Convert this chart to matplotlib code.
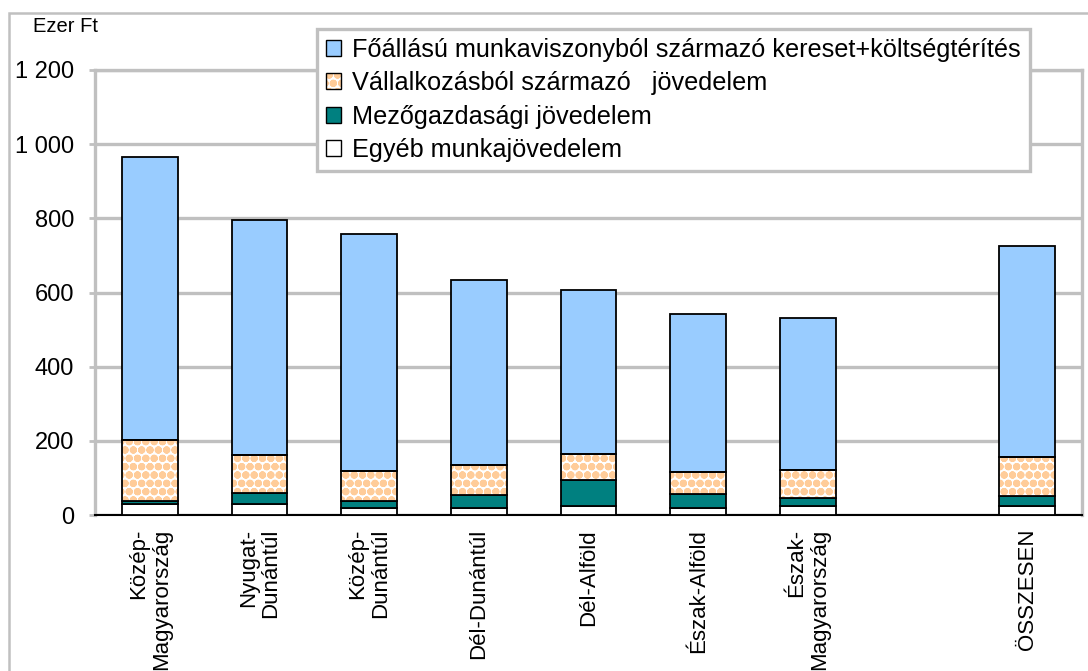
import matplotlib
matplotlib.use("Agg")
import matplotlib.pyplot as plt
from matplotlib.patches import Patch, Rectangle
from matplotlib.legend_handler import HandlerTuple
import numpy as np

plt.rcParams['font.family'] = ['Liberation Sans', 'DejaVu Sans']
plt.rcParams['hatch.linewidth'] = 2.8

categories = ["Közép-\nMagyarország", "Nyugat-\nDunántúl", "Közép-\nDunántúl", "Dél-Dunántúl",
              "Dél-Alföld", "Észak-Alföld", "Észak-\nMagyarország", "", "ÖSSZESEN"]
egyeb = [30, 30, 20, 20, 25, 20, 25, np.nan, 25]
mezogazd = [8, 29, 18, 33, 69, 37, 21, np.nan, 27]
vallalk = [164, 103, 80, 83, 71, 60, 76, np.nan, 104]
foallasu = [763, 633, 640, 499, 442, 426, 410, np.nan, 569]

labels = ["Főállású munkaviszonyból származó kereset+költségtérítés",
          "Vállalkozásból származó   jövedelem",
          "Mezőgazdasági jövedelem",
          "Egyéb munkajövedelem"]

blue = '#99CCFF'
orange = '#FFCC99'
teal = '#008080'
grid = '#C0C0C0'

fig = plt.figure(figsize=(10.88, 6.71), dpi=100)
ax = fig.add_axes([95/1088, 1-515/671, 987/1088, 445/671])

x = np.arange(len(categories))
w = 0.51
e = np.array(egyeb, dtype=float)
m = np.array(mezogazd, dtype=float)
v = np.array(vallalk, dtype=float)
f = np.array(foallasu, dtype=float)

ax.bar(x, e, w, color='white', edgecolor='black', linewidth=1.3, zorder=3)
ax.bar(x, m, w, bottom=e, color=teal, edgecolor='black', linewidth=1.3, zorder=3)
ax.bar(x, v, w, bottom=e+m, color='white', edgecolor=orange, hatch='oo', linewidth=0, zorder=3)
ax.bar(x, v, w, bottom=e+m, fill=False, edgecolor='black', linewidth=1.3, zorder=4)
ax.bar(x, f, w, bottom=e+m+v, color=blue, edgecolor='black', linewidth=1.3, zorder=3)

ax.set_xlim(-0.5, len(categories)-0.5)
ax.set_ylim(0, 1200)
ax.set_yticks(range(0, 1201, 200))
ax.set_yticklabels(['0', '200', '400', '600', '800', '1 000', '1 200'], fontsize=17)
ax.yaxis.grid(True, color=grid, linewidth=2.4, zorder=0)
ax.set_axisbelow(True)
ax.tick_params(axis='y', length=4, width=2, color=grid, pad=11)
ax.tick_params(axis='x', length=0, pad=10)
ax.set_xticks(x)
ax.set_xticklabels(categories, rotation=90, fontsize=16, va='top', ha='center',
                   multialignment='right', linespacing=1.1)
for s in ['left', 'right', 'top']:
    ax.spines[s].set_color(grid)
    ax.spines[s].set_linewidth(2.4)
ax.spines['bottom'].set_color('black')
ax.spines['bottom'].set_linewidth(1.5)

# outer frame
fig.patches.append(Rectangle((9/1088, -0.1), 1.2, 1-13/671+0.1, transform=fig.transFigure,
                             fill=False, edgecolor=grid, linewidth=1.8, zorder=0))

fig.text(33/1088, 1-27/671, "Ezer Ft", fontsize=14.5, va='center', ha='left')

handles = [Patch(facecolor=blue, edgecolor='black', linewidth=1),
           (Patch(facecolor='white', edgecolor=orange, hatch='oo', linewidth=0),
            Patch(fill=False, edgecolor='black', linewidth=1)),
           Patch(facecolor=teal, edgecolor='black', linewidth=1),
           Patch(facecolor='white', edgecolor='black', linewidth=1)]
leg = fig.legend(handles, labels, loc='upper left', bbox_to_anchor=(317/1088, 1-29/671),
                 fontsize=18.2, frameon=True, fancybox=False, framealpha=1,
                 edgecolor=grid, handlelength=0.6, handleheight=0.6, handletextpad=0.45,
                 labelspacing=0.37, borderpad=0.35, borderaxespad=0,
                 handler_map={tuple: HandlerTuple(ndivide=1, pad=0)})
leg.get_frame().set_linewidth(2.4)

fig.savefig("out.png", dpi=100)
